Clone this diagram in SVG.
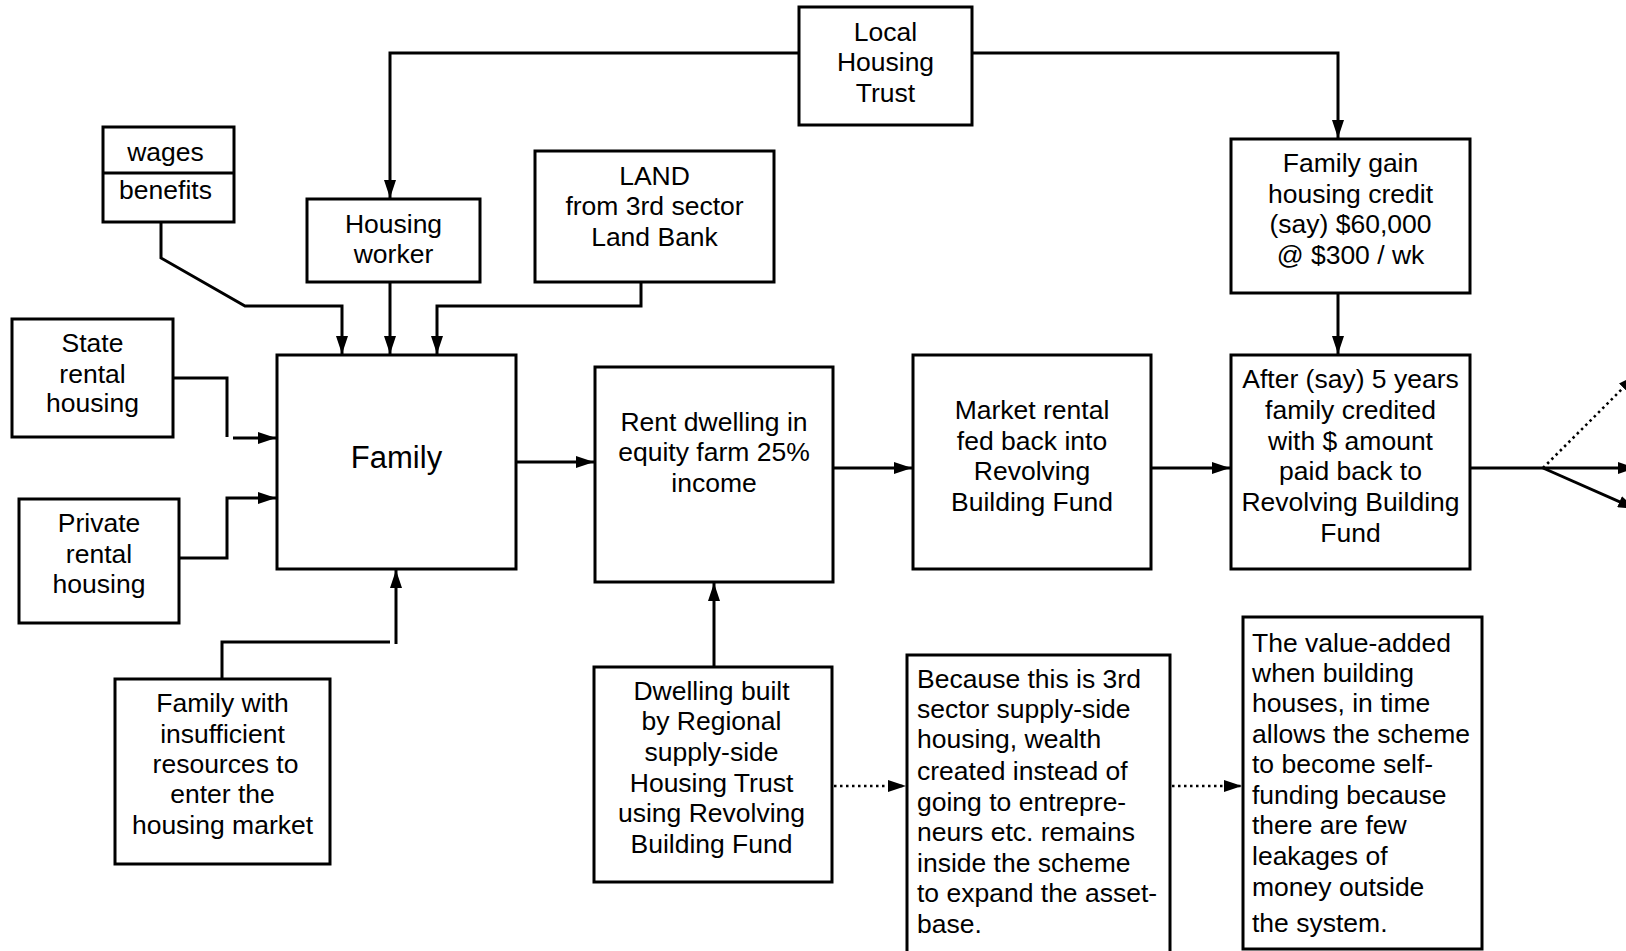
<svg xmlns="http://www.w3.org/2000/svg" width="1626" height="951" viewBox="0 0 1626 951">
<style>
.box{fill:#fff;stroke:#000;stroke-width:3}
.t{font-family:"Liberation Sans",Arial,sans-serif;font-size:26.5px;fill:#000;text-anchor:middle}
.l{text-anchor:start}
.big{font-size:31px}
.c{fill:none;stroke:#000;stroke-width:3}
.d{stroke-dasharray:2.5 3.5;stroke-width:2.6}
</style>
<defs>
<marker id="ah" markerUnits="userSpaceOnUse" markerWidth="18" markerHeight="12" refX="18" refY="6" orient="auto">
<path d="M0,0 L18,6 L0,12 z" fill="#000"/>
</marker>
</defs>
<rect width="1626" height="951" fill="#fff"/>
<g id="connectors">
<path class="c" d="M799,53 H390 V198" marker-end="url(#ah)"/>
<path class="c" d="M972,53 H1338 V138" marker-end="url(#ah)"/>
<path class="c" d="M161,222 V258 L245,306 H342 V354" marker-end="url(#ah)"/>
<path class="c" d="M390,282 V354" marker-end="url(#ah)"/>
<path class="c" d="M641,282 V306 H437 V354" marker-end="url(#ah)"/>
<path class="c" d="M173,378 H227 V437"/>
<path class="c" d="M233,438 H276" marker-end="url(#ah)"/>
<path class="c" d="M179,558 H227 V498 H276" marker-end="url(#ah)"/>
<path class="c" d="M516,462 H594" marker-end="url(#ah)"/>
<path class="c" d="M222,679 V642 H390"/>
<path class="c" d="M396,644 V570" marker-end="url(#ah)"/>
<path class="c" d="M714,667 V583" marker-end="url(#ah)"/>
<path class="c" d="M833,468 H912" marker-end="url(#ah)"/>
<path class="c" d="M1151,468 H1230" marker-end="url(#ah)"/>
<path class="c" d="M1338,293 V354" marker-end="url(#ah)"/>
<path class="c" d="M1470,468 H1636" marker-end="url(#ah)"/>
<path class="c d" d="M1543,468 L1636,375" marker-end="url(#ah)"/>
<path class="c" d="M1543,468 L1636,509" marker-end="url(#ah)"/>
<path class="c d" d="M834,786 H906" marker-end="url(#ah)"/>
<path class="c d" d="M1172,786 H1242" marker-end="url(#ah)"/>
</g>
<g id="local-housing-trust">
<rect class="box" x="799" y="7" width="173" height="118"/>
<text class="t" x="885.5" y="41">Local</text>
<text class="t" x="885.5" y="71">Housing</text>
<text class="t" x="885.5" y="102">Trust</text>
</g>
<g id="wages-benefits">
<rect class="box" x="103" y="127" width="131" height="95"/>
<line class="c" x1="102" y1="173" x2="234" y2="173"/>
<text class="t" x="165.5" y="161">wages</text>
<text class="t" x="165.5" y="199">benefits</text>
</g>
<g id="housing-worker">
<rect class="box" x="307" y="199" width="173" height="83"/>
<text class="t" x="393.5" y="233">Housing</text>
<text class="t" x="393.5" y="263">worker</text>
</g>
<g id="land">
<rect class="box" x="535" y="151" width="239" height="131"/>
<text class="t" x="654.5" y="185">LAND</text>
<text class="t" x="654.5" y="215">from 3rd sector</text>
<text class="t" x="654.5" y="246">Land Bank</text>
</g>
<g id="family-gain">
<rect class="box" x="1231" y="139" width="239" height="154"/>
<text class="t" x="1350.5" y="172">Family gain</text>
<text class="t" x="1350.5" y="203">housing credit</text>
<text class="t" x="1350.5" y="233">(say) $60,000</text>
<text class="t" x="1350.5" y="264">@ $300 / wk</text>
</g>
<g id="state-rental">
<rect class="box" x="12" y="319" width="161" height="118"/>
<text class="t" x="92.5" y="352">State</text>
<text class="t" x="92.5" y="383">rental</text>
<text class="t" x="92.5" y="412">housing</text>
</g>
<g id="private-rental">
<rect class="box" x="19" y="499" width="160" height="124"/>
<text class="t" x="99" y="532">Private</text>
<text class="t" x="99" y="563">rental</text>
<text class="t" x="99" y="593">housing</text>
</g>
<g id="family">
<rect class="box" x="277" y="355" width="239" height="214"/>
<text class="t big" x="396.5" y="468">Family</text>
</g>
<g id="rent-dwelling">
<rect class="box" x="595" y="367" width="238" height="215"/>
<text class="t" x="714" y="431">Rent dwelling in</text>
<text class="t" x="714" y="461">equity farm 25%</text>
<text class="t" x="714" y="492">income</text>
</g>
<g id="market-rental">
<rect class="box" x="913" y="355" width="238" height="214"/>
<text class="t" x="1032" y="419">Market rental</text>
<text class="t" x="1032" y="450">fed back into</text>
<text class="t" x="1032" y="480">Revolving</text>
<text class="t" x="1032" y="511">Building Fund</text>
</g>
<g id="after-5-years">
<rect class="box" x="1231" y="355" width="239" height="214"/>
<text class="t" x="1350.5" y="388">After (say) 5 years</text>
<text class="t" x="1350.5" y="419">family credited</text>
<text class="t" x="1350.5" y="450">with $ amount</text>
<text class="t" x="1350.5" y="480">paid back to</text>
<text class="t" x="1350.5" y="511">Revolving Building</text>
<text class="t" x="1350.5" y="542">Fund</text>
</g>
<g id="family-insufficient">
<rect class="box" x="115" y="679" width="215" height="185"/>
<text class="t" x="222.5" y="712">Family with</text>
<text class="t" x="222.5" y="743">insufficient</text>
<text class="t" x="225.5" y="773">resources to</text>
<text class="t" x="222.5" y="803">enter the</text>
<text class="t" x="222.5" y="834">housing market</text>
</g>
<g id="dwelling-built">
<rect class="box" x="594" y="667" width="238" height="215"/>
<text class="t" x="711.5" y="700">Dwelling built</text>
<text class="t" x="711.5" y="730">by Regional</text>
<text class="t" x="711.5" y="761">supply-side</text>
<text class="t" x="711.5" y="792">Housing Trust</text>
<text class="t" x="711.5" y="822">using Revolving</text>
<text class="t" x="711.5" y="853">Building Fund</text>
</g>
<g id="because-3rd-sector">
<rect class="box" x="907" y="655" width="263" height="310"/>
<text class="t l" x="917" y="688">Because this is 3rd</text>
<text class="t l" x="917" y="718">sector supply-side</text>
<text class="t l" x="917" y="748">housing, wealth</text>
<text class="t l" x="917" y="780">created instead of</text>
<text class="t l" x="917" y="811">going to entrepre-</text>
<text class="t l" x="917" y="841">neurs etc. remains</text>
<text class="t l" x="917" y="872">inside the scheme</text>
<text class="t l" x="917" y="902">to expand the asset-</text>
<text class="t l" x="917" y="933">base.</text>
</g>
<g id="value-added">
<rect class="box" x="1243" y="617" width="239" height="332"/>
<text class="t l" x="1252" y="652">The value-added</text>
<text class="t l" x="1252" y="682">when building</text>
<text class="t l" x="1252" y="712">houses, in time</text>
<text class="t l" x="1252" y="743">allows the scheme</text>
<text class="t l" x="1252" y="773">to become self-</text>
<text class="t l" x="1252" y="804">funding because</text>
<text class="t l" x="1252" y="834">there are few</text>
<text class="t l" x="1252" y="865">leakages of</text>
<text class="t l" x="1252" y="896">money outside</text>
<text class="t l" x="1252" y="932">the system.</text>
</g>
</svg>
